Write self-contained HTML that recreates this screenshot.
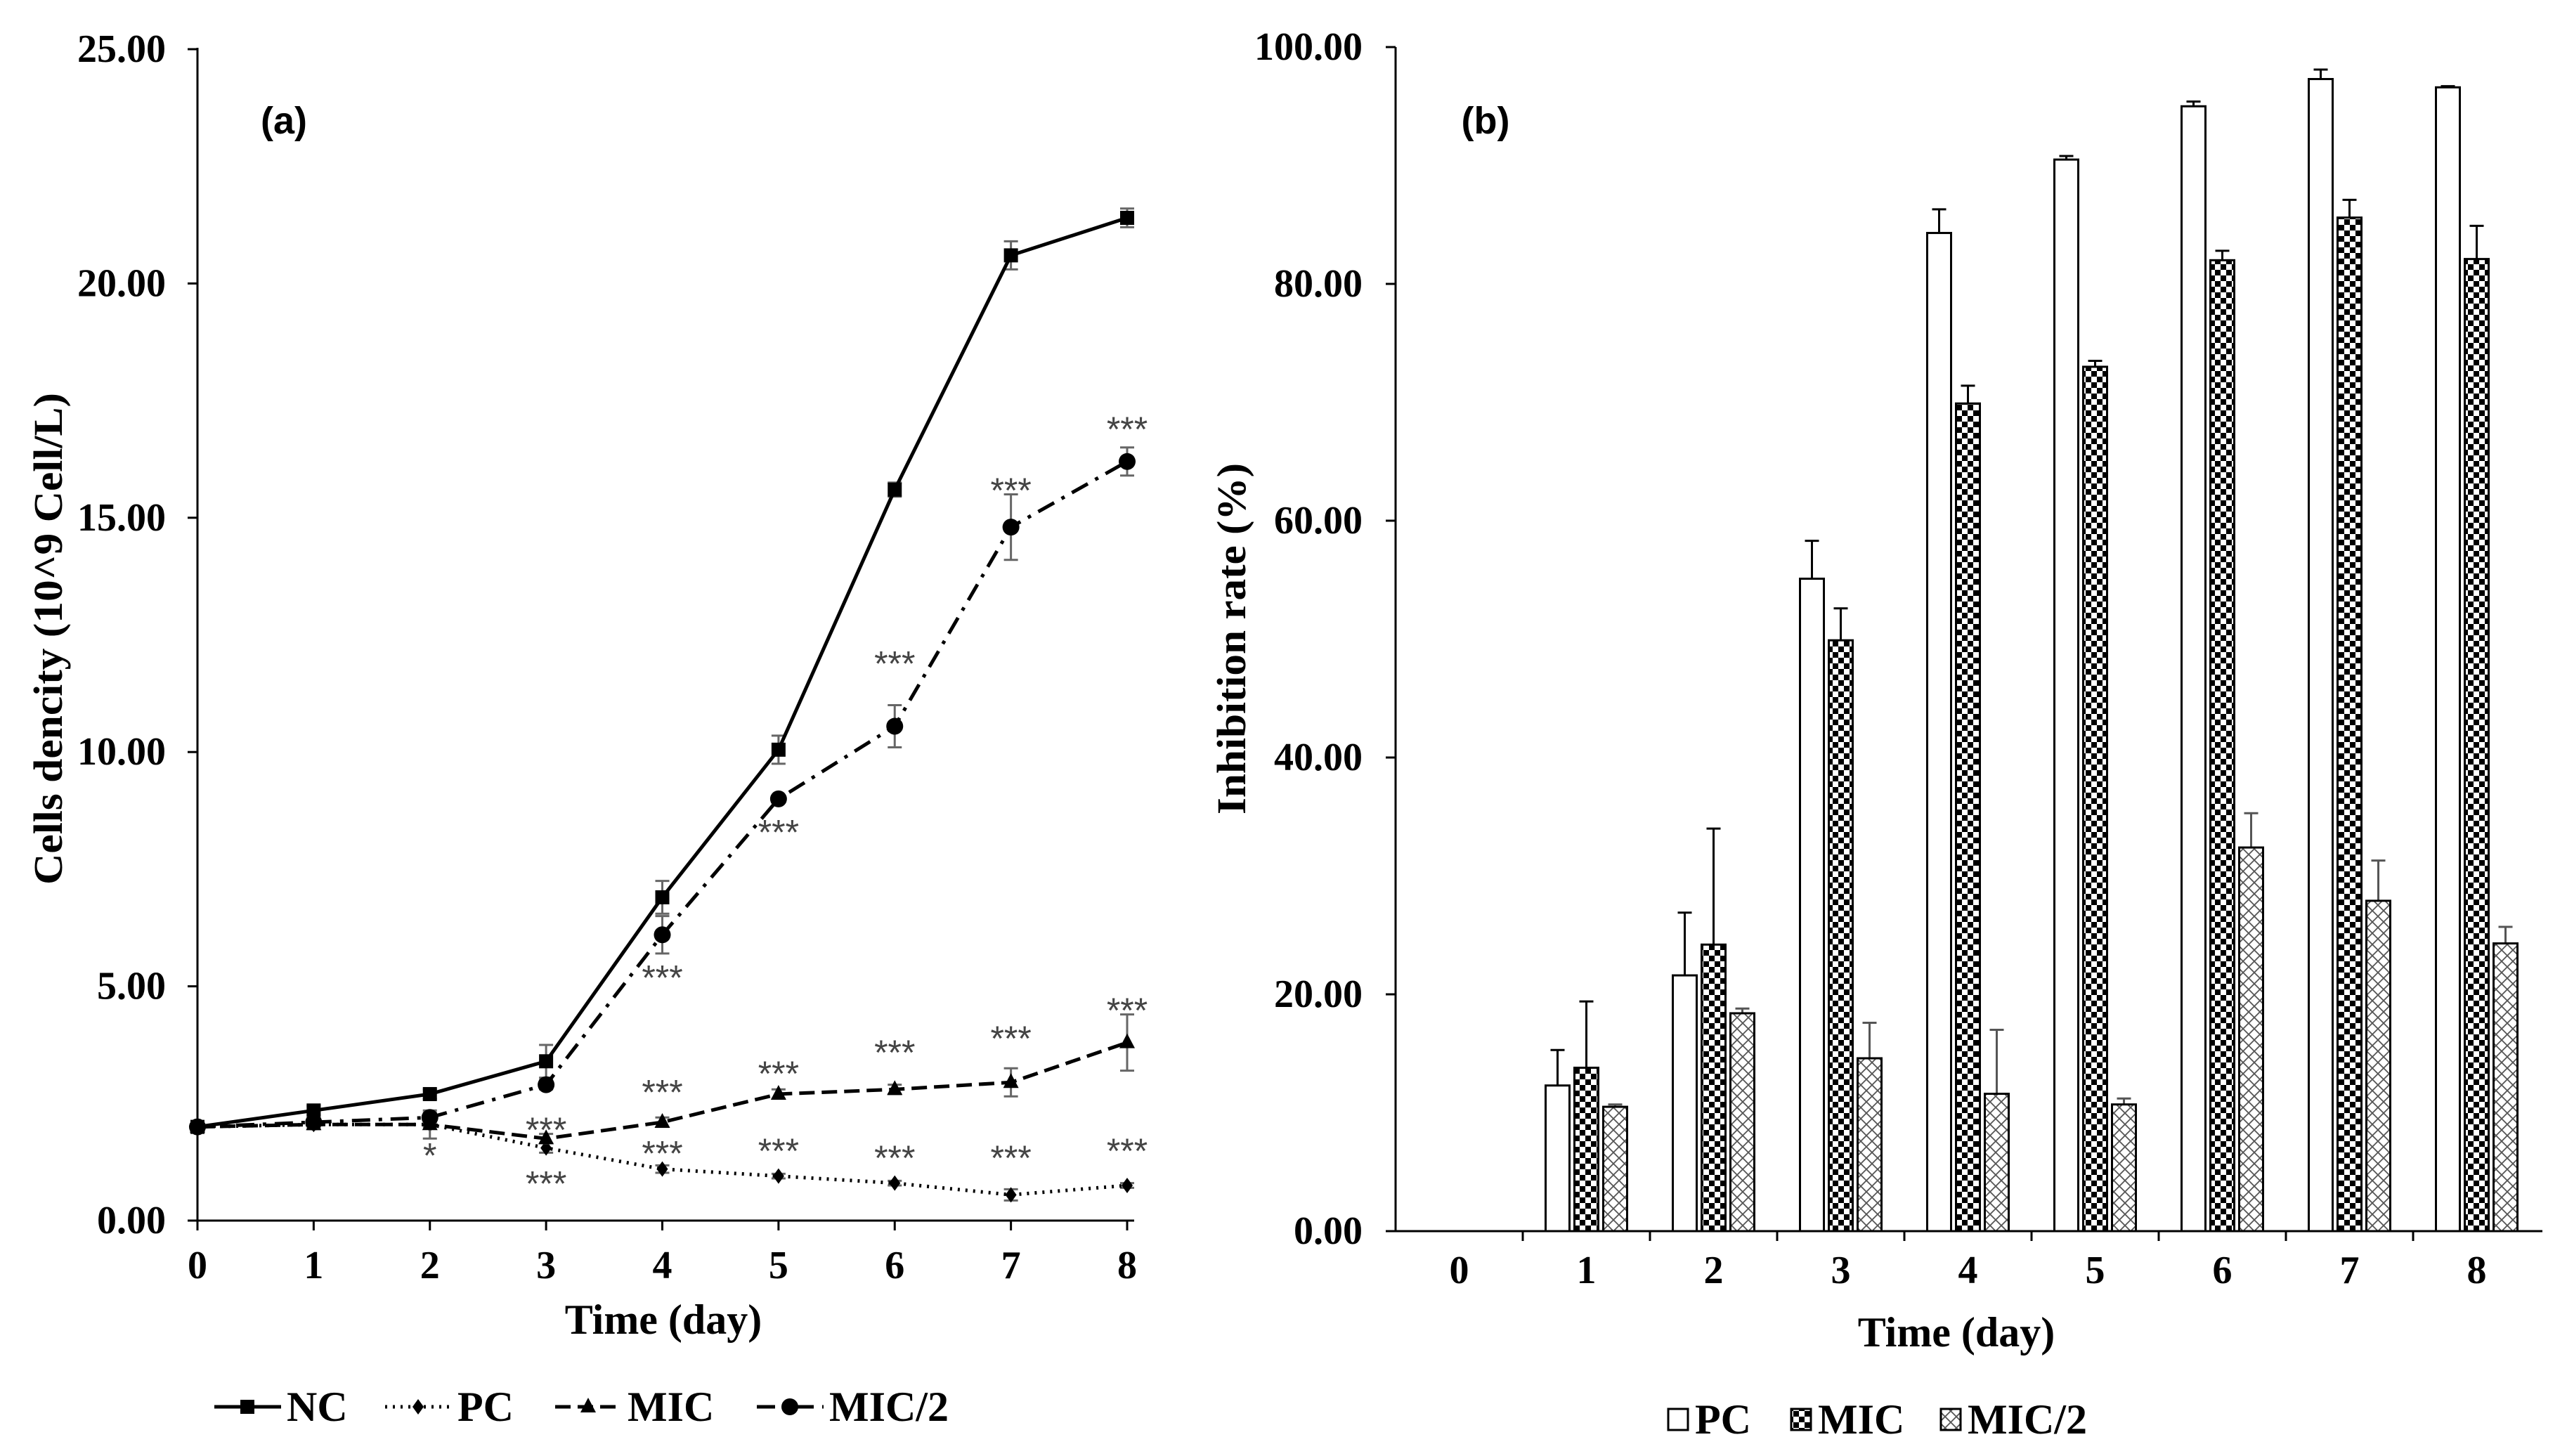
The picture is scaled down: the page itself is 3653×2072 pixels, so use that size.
<!DOCTYPE html>
<html><head><meta charset="utf-8"><style>
html,body{margin:0;padding:0;background:#fff}
svg{display:block}
text{font-family:"Liberation Serif",serif;font-weight:bold;fill:#000}
.sans{font-family:"Liberation Sans",sans-serif}
</style></head><body>
<svg id="svg" width="3653" height="2072" viewBox="0 0 3653 2072" xmlns="http://www.w3.org/2000/svg">
<defs>
<pattern id="checker" width="16" height="16" patternUnits="userSpaceOnUse">
<rect width="16" height="16" fill="#fff"/><rect width="8" height="8" fill="#000"/><rect x="8" y="8" width="8" height="8" fill="#000"/>
</pattern>
<pattern id="cross" width="16" height="16" patternUnits="userSpaceOnUse">
<rect width="16" height="16" fill="#fff"/><path d="M0 0L16 16M16 0L0 16" stroke="#555" stroke-width="1.8"/>
</pattern>
</defs>
<g id="ga"></g>
<g id="gb"></g>
</svg>
<script>
// ---- Chart (a) data ----
const daysA = [0,1,2,3,4,5,6,7,8];
const ncVals = [2.0,2.35,2.7,3.4,6.9,10.05,15.6,20.6,21.4];
const ncErr = [0,0.1,0.1,0.35,0.35,0.3,0.15,0.3,0.2];
const pcVals = [2.0,2.05,2.05,1.55,1.1,0.95,0.8,0.55,0.75];
const pcErr = [0,0.05,0.05,0.1,0.08,0.05,0.05,0.12,0.05];
const micVals = [2.0,2.05,2.05,1.75,2.1,2.7,2.8,2.95,3.8];
const micErr = [0,0.1,0.3,0.1,0.1,0.1,0.1,0.3,0.6];
const mic2Vals = [2.0,2.1,2.2,2.9,6.1,9.0,10.55,14.8,16.2];
const mic2Err = [0,0.1,0.1,0.1,0.4,0,0.45,0.7,0.3];
const yTicksA = [0,5,10,15,20,25];
const starDays = [8,7,6,5,4,3,4,5,6,7,8,2,3,4,5,6,7,8];
const starVals = [16.9,15.6,11.9,8.3,5.2,1.95,2.75,3.15,3.6,3.9,4.5,1.4,0.8,1.45,1.5,1.35,1.35,1.5];
const starText = ["***","***","***","***","***","***","***","***","***","***","***","*","***","***","***","***","***","***"];
// ---- Chart (b) data ----
const daysB = [0,1,2,3,4,5,6,7,8];
const pcB = [0,12.3,21.6,55.1,84.3,90.5,95.0,97.3,96.6];
const pcBErr = [0,3.0,5.3,3.2,2.0,0.3,0.4,0.8,0.1];
const micB = [0,13.8,24.2,49.9,69.9,73.0,82.0,85.6,82.1];
const micBErr = [0,5.6,9.8,2.7,1.5,0.5,0.8,1.5,2.8];
const mic2B = [0,10.5,18.4,14.6,11.6,10.7,32.4,27.9,24.3];
const mic2BErr = [0,0.2,0.4,3.0,5.4,0.5,2.9,3.4,1.4];
const yTicksB = [0,20,40,60,80,100];

const NS="http://www.w3.org/2000/svg";
function mk(parent,tag,attrs,txt){const e=document.createElementNS(NS,tag);for(const k in attrs)e.setAttribute(k,attrs[k]);if(txt!==undefined)e.textContent=txt;parent.appendChild(e);return e;}

// ===== Chart A =====
const ga=document.getElementById('ga');
const ax0=281, ax1=1604, ay0=1737, ay1=70;
const xA=d=>ax0+(ax1-ax0)*d/8;
const yA=v=>ay0-(ay0-ay1)*v/25;
let e;
e=mk(ga,'line',{x1:ax0,y1:ay0,x2:ax0,y2:ay1-2,stroke:'#000','stroke-width':3});

e=mk(ga,'line',{x1:ax0,y1:ay0,x2:ax1+10,y2:ay0,stroke:'#000','stroke-width':3});

yTicksA.forEach(v=>{
  mk(ga,'line',{x1:ax0-14,y1:yA(v),x2:ax0,y2:yA(v),stroke:'#000','stroke-width':3});
  e=mk(ga,'text',{x:ax0-45,y:yA(v)+18,'text-anchor':'end','font-size':56},v.toFixed(2));
  
});
daysA.forEach(d=>{
  mk(ga,'line',{x1:xA(d),y1:ay0,x2:xA(d),y2:ay0+14,stroke:'#000','stroke-width':3});
  e=mk(ga,'text',{x:xA(d),y:ay0+82,'text-anchor':'middle','font-size':56},String(d));
  
});
e=mk(ga,'text',{x:944,y:1898,'text-anchor':'middle','font-size':60},'Time (day)');

e=mk(ga,'text',{x:0,y:0,'text-anchor':'middle','font-size':58,transform:'translate(88,909) rotate(-90)',textLength:700,lengthAdjust:'spacingAndGlyphs'},'Cells dencity (10^9 Cell/L)');

e=mk(ga,'text',{x:404,y:190,'text-anchor':'middle','font-size':54,class:'sans'},'(a)');


const seriesA=[
 {name:'nc',vals:ncVals,err:ncErr,dash:'',marker:'square'},
 {name:'pc',vals:pcVals,err:pcErr,dash:'3 8',marker:'diamond'},
 {name:'mic',vals:micVals,err:micErr,dash:'22 10',marker:'triangle'},
 {name:'mic2',vals:mic2Vals,err:mic2Err,dash:'26 12 5 12',marker:'circle'}
];
function marker(g,type,x,y,s){
  if(type==='square') return mk(g,'rect',{x:x-10,y:y-10,width:20,height:20,fill:'#000'});
  if(type==='diamond') return mk(g,'polygon',{points:`${x},${y-11} ${x+8},${y} ${x},${y+11} ${x-8},${y}`,fill:'#000'});
  if(type==='triangle') return mk(g,'polygon',{points:`${x},${y-13} ${x+11},${y+8} ${x-11},${y+8}`,fill:'#000'});
  return mk(g,'circle',{cx:x,cy:y,r:12,fill:'#000'});
}
seriesA.forEach(s=>{
  const g=mk(ga,'g',{});
  
  
  s.vals.forEach((v,i)=>{
    if(s.err[i]>0){
      const x=xA(daysA[i]);
      mk(g,'path',{d:`M${x} ${yA(v+s.err[i])}V${yA(v-s.err[i])}M${x-10} ${yA(v+s.err[i])}H${x+10}M${x-10} ${yA(v-s.err[i])}H${x+10}`,stroke:'#666','stroke-width':3,fill:'none'});
    }
  });
  const pts=s.vals.map((v,i)=>xA(daysA[i])+','+yA(v)).join(' ');
  const pl=mk(g,'polyline',{points:pts,fill:'none',stroke:'#000','stroke-width':5});
  if(s.dash) pl.setAttribute('stroke-dasharray',s.dash);
  
  
  s.vals.forEach((v,i)=>{
    const m=marker(g,s.marker,xA(daysA[i]),yA(v));
    
    
  });
});
starVals.forEach((v,i)=>{
  const t=mk(ga,'text',{x:xA(starDays[i]),y:yA(v)+18,'text-anchor':'middle','font-size':50,style:'font-family:"Liberation Sans",sans-serif;font-weight:normal;fill:#444'},starText[i]);
  
  
});
// legend A
const legA=mk(ga,'g',{});


const legItemsA=[['NC',305,'','square'],['PC',548,'3 8','diamond'],['MIC',790,'22 10','triangle'],['MIC/2',1077,'26 12 5 12','circle']];
const legLabelsA=['NC','PC','MIC','MIC/2'];
legItemsA.forEach((it,i)=>{
  const x=it[1], y=2002;
  const l=mk(legA,'line',{x1:x,y1:y,x2:x+95,y2:y,stroke:'#000','stroke-width':5});
  if(it[2]) l.setAttribute('stroke-dasharray',it[2]);
  marker(legA,it[3],x+47,y);
  const t=mk(legA,'text',{x:x+103,y:y+20,'font-size':60},legLabelsA[i]);
  
  
});

// ===== Chart B =====
const gb=document.getElementById('gb');
const bx0=1986, bx1=3618, by0=1752, by1=67;
const catW=181;
const xB=d=>bx0+catW*(d+0.5);
const yB=v=>by0-(by0-by1)*v/100;
e=mk(gb,'line',{x1:bx0,y1:by0,x2:bx0,y2:by1,stroke:'#000','stroke-width':3});

e=mk(gb,'line',{x1:bx0,y1:by0,x2:bx1,y2:by0,stroke:'#000','stroke-width':3});

yTicksB.forEach(v=>{
  mk(gb,'line',{x1:bx0-14,y1:yB(v),x2:bx0,y2:yB(v),stroke:'#000','stroke-width':3});
  e=mk(gb,'text',{x:bx0-47,y:yB(v)+18,'text-anchor':'end','font-size':56},v.toFixed(2));
  
});
daysB.forEach((d,i)=>{
  if(i>0) mk(gb,'line',{x1:bx0+catW*i,y1:by0,x2:bx0+catW*i,y2:by0+14,stroke:'#000','stroke-width':3});
  e=mk(gb,'text',{x:xB(d),y:by0+74,'text-anchor':'middle','font-size':56},String(d));
  
});
e=mk(gb,'text',{x:2784,y:1916,'text-anchor':'middle','font-size':60},'Time (day)');

e=mk(gb,'text',{x:0,y:0,'text-anchor':'middle','font-size':58,transform:'translate(1772,909) rotate(-90)',textLength:500,lengthAdjust:'spacingAndGlyphs'},'Inhibition rate (%)');

e=mk(gb,'text',{x:2114,y:190,'text-anchor':'middle','font-size':54,class:'sans'},'(b)');


const seriesB=[
 {name:'pc',vals:pcB,err:pcBErr,fill:'#fff',off:-41},
 {name:'mic',vals:micB,err:micBErr,fill:'url(#checker)',off:0},
 {name:'mic2',vals:mic2B,err:mic2BErr,fill:'url(#cross)',off:41}
];
const bw=34;
seriesB.forEach(s=>{
  const g=mk(gb,'g',{});
  
  
  s.vals.forEach((v,i)=>{
    if(v<=0) return;
    const cx=xB(daysB[i])+s.off;
    if(s.err[i]>0){
      mk(g,'path',{d:`M${cx} ${yB(v)}V${yB(v+s.err[i])}M${cx-10} ${yB(v+s.err[i])}H${cx+10}`,stroke:s.name==='mic2'?'#555':'#000','stroke-width':3,fill:'none'});
    }
    const r=mk(g,'rect',{x:cx-bw/2,y:yB(v),width:bw,height:by0-yB(v),fill:s.fill,stroke:'#000','stroke-width':3});
    
    
  });
});
// legend B
const legB=mk(gb,'g',{});


const legItemsB=[['PC',2374,'#fff'],['MIC',2549,'url(#checker)'],['MIC/2',2762,'url(#cross)']];
const legLabelsB=['PC','MIC','MIC/2'];
legItemsB.forEach((it,i)=>{
  const x=it[1], y=2020;
  mk(legB,'rect',{x:x,y:y-15,width:28,height:30,fill:it[2],stroke:'#000','stroke-width':3});
  const t=mk(legB,'text',{x:x+38,y:y+20,'font-size':60},legLabelsB[i]);
  
  
});
</script>
</body></html>
